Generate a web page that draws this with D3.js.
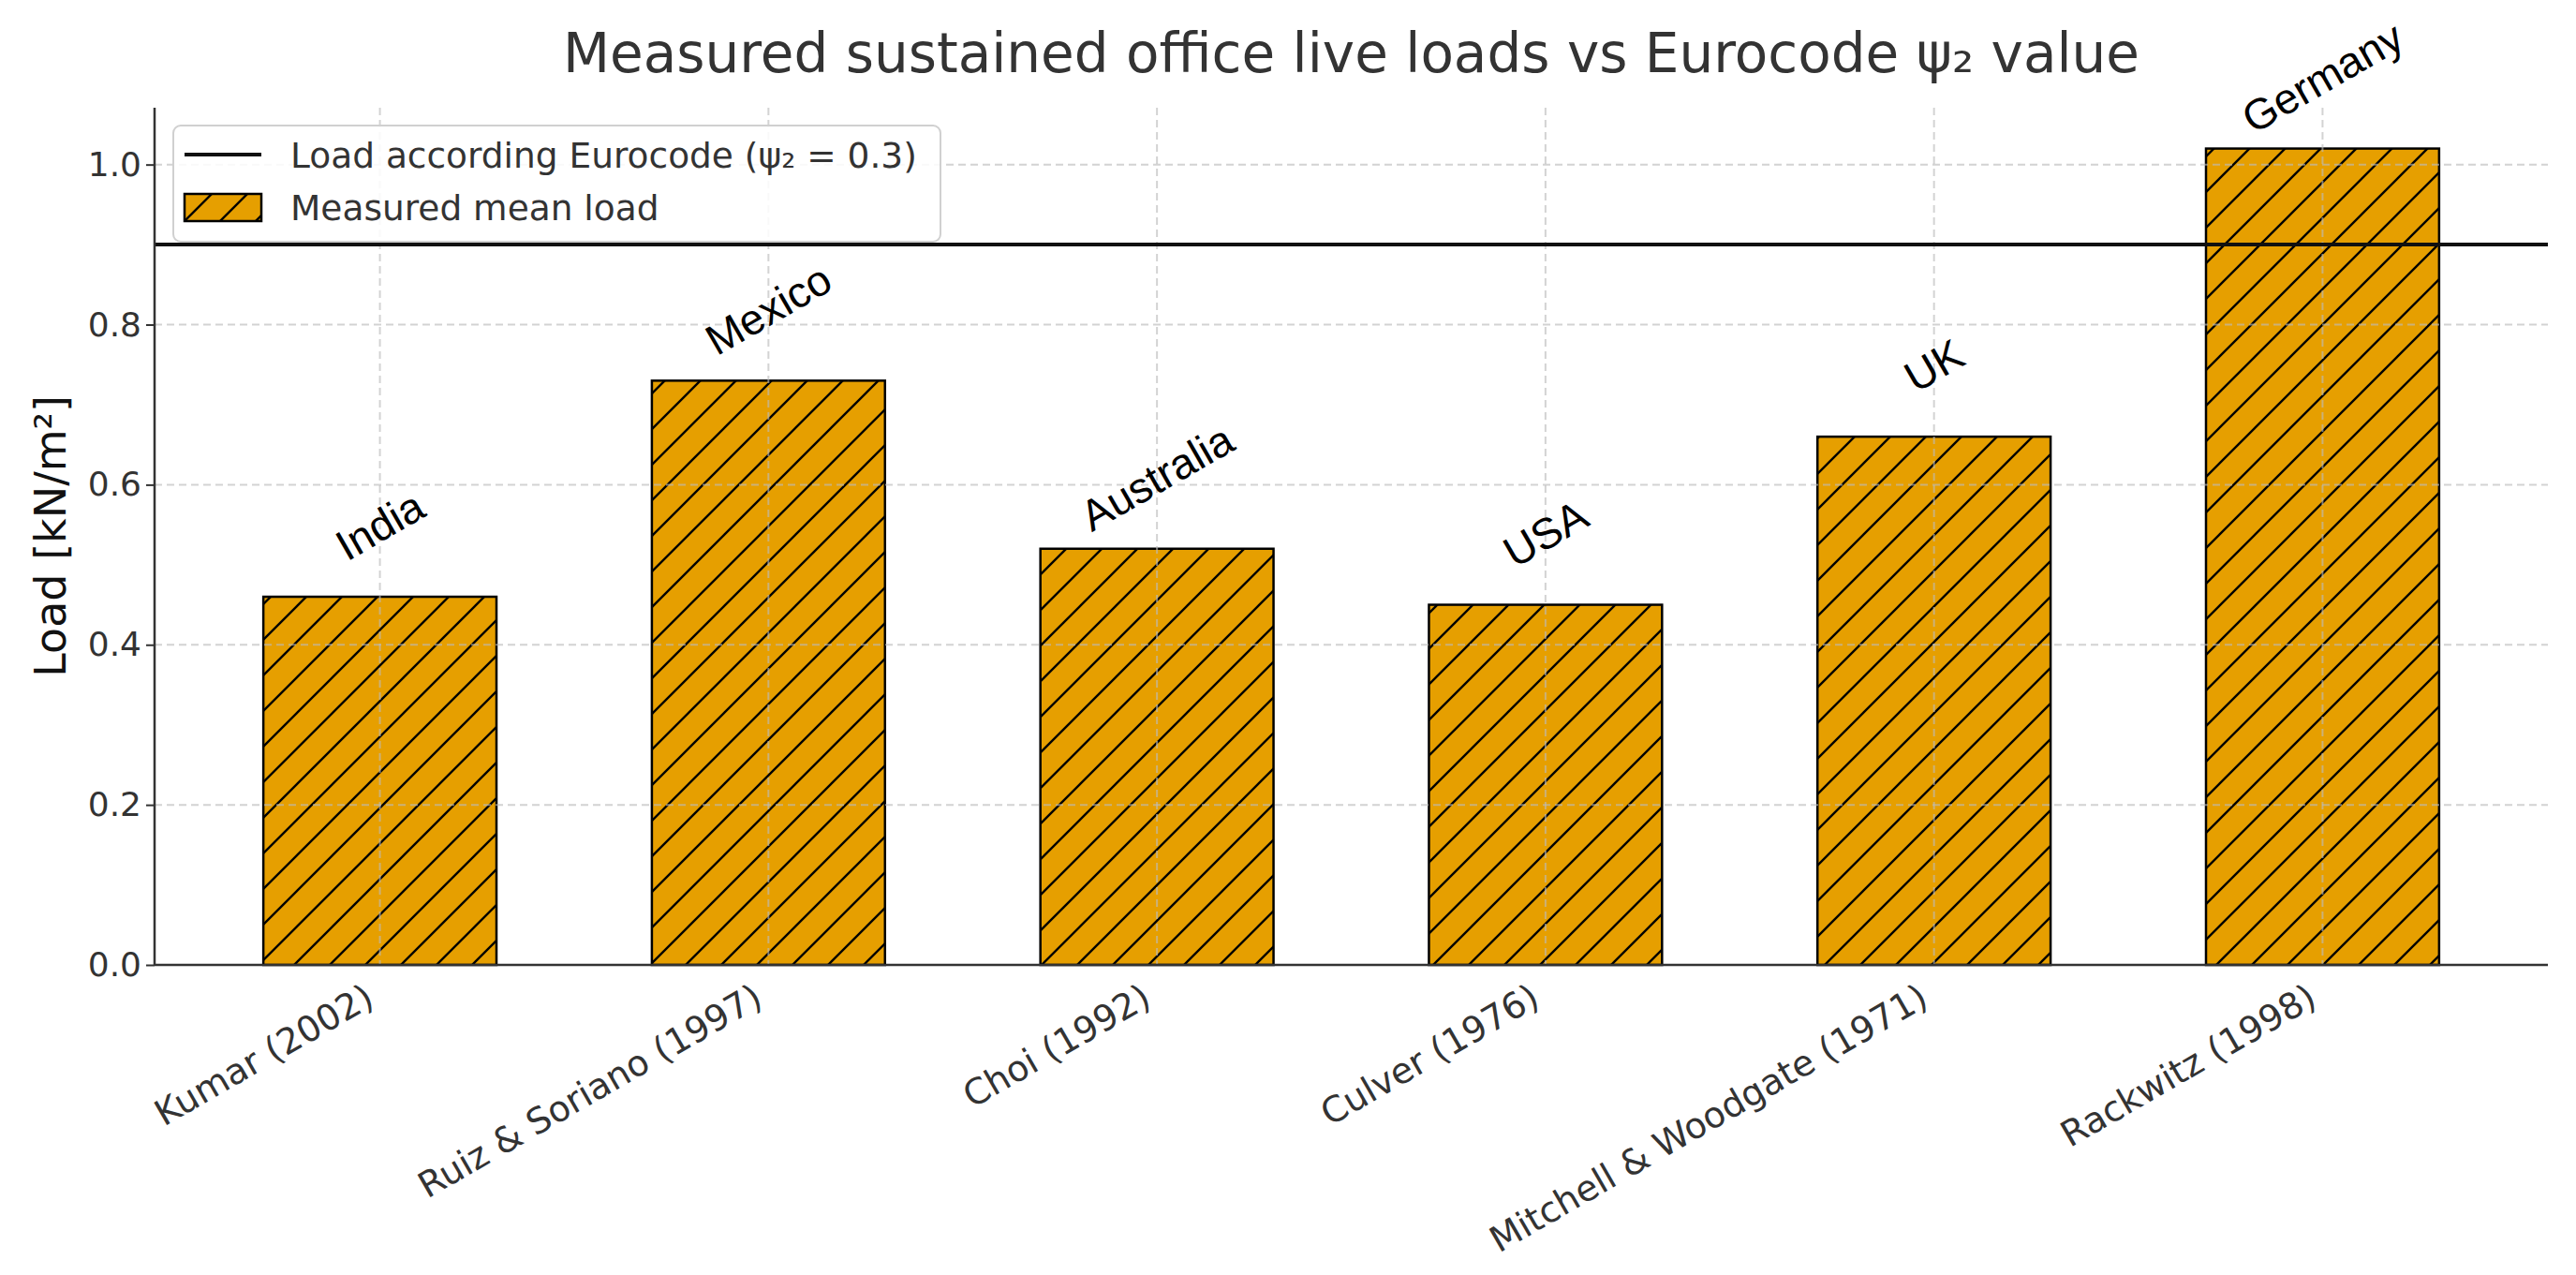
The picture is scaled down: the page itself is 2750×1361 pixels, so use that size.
<!DOCTYPE html>
<html>
<head>
<meta charset="utf-8">
<script src="https://cdn.jsdelivr.net/npm/d3@7"></script>
<style>
  body { margin: 0; background: #fff; }
  .tick text { font-family: "DejaVu Sans", sans-serif; }
</style>
</head>
<body>
<div id="chart"></div>
<script>
// Data
var studies = ["Kumar (2002)", "Ruiz & Soriano (1997)", "Choi (1992)", "Culver (1976)", "Mitchell & Woodgate (1971)", "Rackwitz (1998)"];
var countries = ["India", "Mexico", "Australia", "USA", "UK", "Germany"];
var meanLoads = [0.46, 0.73, 0.52, 0.45, 0.66, 1.02];
var eurocodeLoad = 0.9;
var yTicks = [0.0, 0.2, 0.4, 0.6, 0.8, 1.0];

var svgWidth = 2750;
var svgHeight = 1361;

var margin = { top: 115, right: 30, bottom: 331, left: 165 };
var width = svgWidth - margin.left - margin.right;
var height = svgHeight - margin.top - margin.bottom;

var svg = d3.select("#chart")
  .append("svg")
  .attr("width", svgWidth)
  .attr("height", svgHeight);

svg.append("rect")
  .attr("width", svgWidth)
  .attr("height", svgHeight)
  .attr("fill", "#fff");

// Hatch pattern for the bars ("/" hatch on orange)
var defs = svg.append("defs");
var pattern = defs.append("pattern")
  .attr("id", "hatch")
  .attr("patternUnits", "userSpaceOnUse")
  .attr("width", 38)
  .attr("height", 38);
pattern.append("rect")
  .attr("width", 38)
  .attr("height", 38)
  .attr("fill", "#E69F00");
pattern.append("path")
  .attr("d", "M0,38 L38,0 M-19,19 L19,-19 M19,57 L57,19")
  .attr("stroke", "#000")
  .attr("stroke-width", 2.4);

var chartGroup = svg.append("g")
  .attr("transform", `translate(${margin.left}, ${margin.top})`);

// Scales
var xBandScale = d3.scaleBand()
  .domain(studies)
  .range([0, width])
  .paddingInner(0.4)
  .paddingOuter(0.28);

var yLinearScale = d3.scaleLinear()
  .domain([0, d3.max(meanLoads) * 1.05])
  .range([height, 0]);

var xCenter = d => xBandScale(d) + xBandScale.bandwidth() / 2;

// Bars
chartGroup.selectAll(".bar")
  .data(studies)
  .enter()
  .append("rect")
  .attr("class", "bar")
  .attr("x", d => xBandScale(d))
  .attr("y", (d, i) => yLinearScale(meanLoads[i]))
  .attr("width", xBandScale.bandwidth())
  .attr("height", (d, i) => height - yLinearScale(meanLoads[i]))
  .attr("fill", "url(#hatch)")
  .attr("stroke", "#000")
  .attr("stroke-width", 2.5);

// Grid (drawn over the bars, faint)
var grid = chartGroup.append("g")
  .attr("stroke", "#bcbcbc")
  .attr("stroke-opacity", 0.65)
  .attr("stroke-width", 2)
  .attr("stroke-dasharray", "8,5");

grid.selectAll(".hgrid")
  .data(yTicks.slice(1))
  .enter()
  .append("line")
  .attr("x1", 0)
  .attr("x2", width)
  .attr("y1", d => yLinearScale(d))
  .attr("y2", d => yLinearScale(d));

grid.selectAll(".vgrid")
  .data(studies)
  .enter()
  .append("line")
  .attr("x1", xCenter)
  .attr("x2", xCenter)
  .attr("y1", 0)
  .attr("y2", height);

// Eurocode reference line
chartGroup.append("line")
  .attr("x1", 0)
  .attr("x2", width)
  .attr("y1", yLinearScale(eurocodeLoad))
  .attr("y2", yLinearScale(eurocodeLoad))
  .attr("stroke", "#111")
  .attr("stroke-width", 4);

// Country labels above bars
chartGroup.selectAll(".country")
  .data(countries)
  .enter()
  .append("text")
  .attr("class", "country")
  .attr("transform", (d, i) => `translate(${xCenter(studies[i])}, ${yLinearScale(meanLoads[i]) - 76}) rotate(-30)`)
  .attr("text-anchor", "middle")
  .attr("dominant-baseline", "central")
  .attr("font-family", "'Liberation Sans', Arial, sans-serif")
  .attr("font-size", 46)
  .attr("fill", "#000")
  .text(d => d);

// Axes
var leftAxis = d3.axisLeft(yLinearScale)
  .tickValues(yTicks)
  .tickFormat(d3.format(".1f"))
  .tickSize(9)
  .tickPadding(5);

var yAxisGroup = chartGroup.append("g")
  .call(leftAxis);
yAxisGroup.select(".domain").attr("stroke", "#333").attr("stroke-width", 2.5)
  .attr("d", `M0,0V${height}`);
yAxisGroup.selectAll(".tick line").attr("stroke", "#333").attr("stroke-width", 2);
yAxisGroup.selectAll(".tick text")
  .attr("font-size", 36)
  .attr("fill", "#333");

var bottomAxis = d3.axisBottom(xBandScale)
  .tickSize(0)
  .tickPadding(0);

var xAxisGroup = chartGroup.append("g")
  .attr("transform", `translate(0, ${height})`)
  .call(bottomAxis);
xAxisGroup.select(".domain").attr("stroke", "#333").attr("stroke-width", 2.5)
  .attr("d", `M0,0H${width}`);
xAxisGroup.selectAll(".tick text")
  .attr("font-size", 38)
  .attr("fill", "#333")
  .attr("text-anchor", "end")
  .attr("dy", null)
  .attr("y", 0)
  .attr("transform", "translate(-4, 42) rotate(-30)");

// Axis label and title
svg.append("text")
  .attr("transform", `translate(70, ${margin.top + height / 2}) rotate(-90)`)
  .attr("text-anchor", "middle")
  .attr("font-family", "'DejaVu Sans', sans-serif")
  .attr("font-size", 46)
  .attr("fill", "#111")
  .text("Load [kN/m²]");

svg.append("text")
  .attr("x", margin.left + width / 2)
  .attr("y", 77)
  .attr("text-anchor", "middle")
  .attr("font-family", "'DejaVu Sans', sans-serif")
  .attr("font-size", 58)
  .attr("fill", "#333")
  .text("Measured sustained office live loads vs Eurocode ψ₂ value");

// Legend
var legend = svg.append("g")
  .attr("transform", "translate(185, 134)");

legend.append("rect")
  .attr("width", 819)
  .attr("height", 124)
  .attr("rx", 8)
  .attr("fill", "#fff")
  .attr("fill-opacity", 0.85)
  .attr("stroke", "#d0d0d0")
  .attr("stroke-width", 2);

legend.append("line")
  .attr("x1", 12)
  .attr("x2", 94)
  .attr("y1", 31)
  .attr("y2", 31)
  .attr("stroke", "#111")
  .attr("stroke-width", 4);

legend.append("rect")
  .attr("x", 12)
  .attr("y", 73)
  .attr("width", 82)
  .attr("height", 29)
  .attr("fill", "url(#hatch)")
  .attr("stroke", "#000")
  .attr("stroke-width", 2.5);

legend.selectAll(".legend-text")
  .data(["Load according Eurocode (ψ₂ = 0.3)", "Measured mean load"])
  .enter()
  .append("text")
  .attr("x", 125)
  .attr("y", (d, i) => 45 + i * 56)
  .attr("font-family", "'DejaVu Sans', sans-serif")
  .attr("font-size", 37.5)
  .attr("fill", "#333")
  .text(d => d);
</script>
</body>
</html>
